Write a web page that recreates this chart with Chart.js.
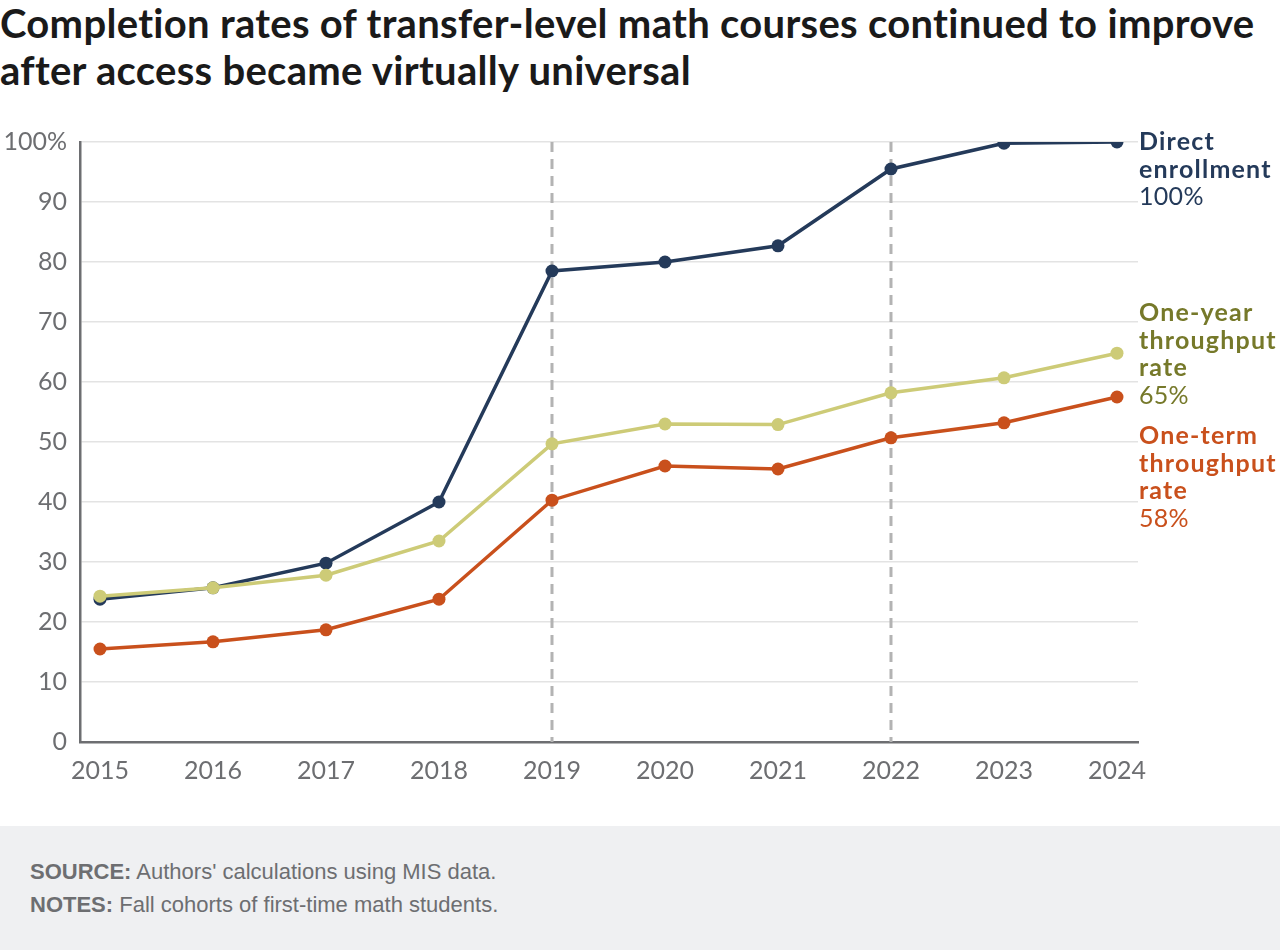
<!DOCTYPE html>
<html>
<head>
<meta charset="utf-8">
<script src="https://cdn.jsdelivr.net/npm/chart.js@4"></script>
<style>
  body { margin: 0; width: 1280px; height: 950px; background: #fff; position: relative; overflow: hidden; }
  h1 {
    position: absolute; left: 0; top: 0px; margin: 0; white-space: nowrap;
    font: bold 40px "Lato", sans-serif; color: #1a1a1a; line-height: 47px; letter-spacing: 0.3px;
  }
  #wrap { position: absolute; left: 0; top: 0; width: 1280px; height: 826px; }
  .foot {
    position: absolute; left: 0; top: 826px; width: 1280px; height: 124px; background: #eff0f2;
    font: 22px "Liberation Sans", Arial, sans-serif; color: #6d6e71;
  }
  .foot p { margin: 0; position: absolute; left: 30px; line-height: 25px; }
</style>
</head>
<body>
<h1>Completion rates of transfer-level math courses continued to improve<br>after access became virtually universal</h1>
<div id="wrap"><canvas id="myChart" width="1280" height="826"></canvas></div>
<div class="foot">
  <p style="top:33px"><b>SOURCE:</b> Authors' calculations using MIS data.</p>
  <p style="top:66px"><b>NOTES:</b> Fall cohorts of first-time math students.</p>
</div>
<script>
const years = [2015, 2016, 2017, 2018, 2019, 2020, 2021, 2022, 2023, 2024];
const directEnrollment = [23.8, 25.7, 29.8, 40, 78.5, 80, 82.7, 95.5, 99.8, 100];
const oneYearRate = [24.3, 25.7, 27.8, 33.5, 49.7, 53, 52.9, 58.2, 60.7, 64.8];
const oneTermRate = [15.5, 16.7, 18.7, 23.8, 40.3, 46, 45.5, 50.7, 53.2, 57.5];
const yTicks = [0, 10, 20, 30, 40, 50, 60, 70, 80, 90, 100];
const markerYears = [2019, 2022];

// end labels: text lines, colour, value where the first line sits
const endLabels = [
  { bold: ["Direct", "enrollment"], value: "100%", color: "#243a5a", at: 100 },
  { bold: ["One-year", "throughput", "rate"], value: "65%", color: "#76792a", at: 71.5 },
  { bold: ["One-term", "throughput", "rate"], value: "58%", color: "#c9501c", at: 51 },
];

function toPoints(vals) {
  return vals.map((v, i) => ({ x: years[i], y: v }));
}

const dashLines = {
  id: "dashLines",
  beforeDatasetsDraw(chart) {
    const ctx = chart.ctx;
    const x = chart.scales.x;
    const area = chart.chartArea;
    ctx.save();
    ctx.strokeStyle = "#b3b3b3";
    ctx.lineWidth = 3;
    ctx.setLineDash([10, 7]);
    markerYears.forEach((yr) => {
      const px = x.getPixelForValue(yr);
      ctx.beginPath();
      ctx.moveTo(px, area.top);
      ctx.lineTo(px, area.bottom);
      ctx.stroke();
    });
    ctx.restore();
  },
};

const sideLabels = {
  id: "sideLabels",
  afterDraw(chart) {
    const ctx = chart.ctx;
    const y = chart.scales.y;
    const left = chart.chartArea.right + 1;
    ctx.save();
    ctx.textBaseline = "middle";
    ctx.textAlign = "left";
    endLabels.forEach((lab) => {
      let py = y.getPixelForValue(lab.at);
      ctx.fillStyle = lab.color;
      ctx.font = "bold 25px Lato, sans-serif";
      ctx.letterSpacing = "1.2px";
      lab.bold.forEach((t) => {
        ctx.fillText(t, left, py);
        py += 27.5;
      });
      ctx.font = "25px Lato, sans-serif";
      ctx.letterSpacing = "0.3px";
      ctx.fillText(lab.value, left, py);
    });
    ctx.restore();
  },
};

const myChart = new Chart("myChart", {
  type: "line",
  data: {
    datasets: [
      {
        label: "One-term throughput rate",
        data: toPoints(oneTermRate),
        borderColor: "#c9501c",
        backgroundColor: "#c9501c",
      },
      {
        label: "One-year throughput rate",
        data: toPoints(oneYearRate),
        borderColor: "#cdcb77",
        backgroundColor: "#cdcb77",
      },
      {
        label: "Direct enrollment",
        data: toPoints(directEnrollment),
        borderColor: "#243a5a",
        backgroundColor: "#243a5a",
      },
    ],
  },
  options: {
    responsive: false,
    animation: false,
    layout: { padding: { top: 142, right: 142, left: 0, bottom: 0 } },
    elements: {
      line: { borderWidth: 3.5, tension: 0 },
      point: { radius: 6.5, hoverRadius: 6.5, borderWidth: 0 },
    },
    scales: {
      x: {
        type: "linear",
        min: 2014.823,
        max: 2024.186,
        afterBuildTicks(scale) {
          scale.ticks = years.map((v) => ({ value: v }));
        },
        afterFit(scale) {
          scale.height = 84;
        },
        grid: { display: false, drawTicks: false },
        border: { color: "#6d6e71", width: 2.5 },
        ticks: {
          callback: (v) => String(v),
          color: "#6d6e71",
          font: { family: "Lato", size: 25 },
          padding: 14,
          maxRotation: 0,
        },
      },
      y: {
        min: 0,
        max: 100,
        afterBuildTicks(scale) {
          scale.ticks = yTicks.map((v) => ({ value: v }));
        },
        afterFit(scale) {
          scale.width = 80;
        },
        grid: { color: "#e3e3e3", lineWidth: 1.5, drawTicks: false },
        border: { color: "#6d6e71", width: 2.5 },
        ticks: {
          callback: (v) => (v === 100 ? "100%" : String(v)),
          color: "#6d6e71",
          font: { family: "Lato", size: 25 },
          padding: 13,
        },
      },
    },
    plugins: {
      legend: { display: false },
      tooltip: { enabled: false },
    },
  },
  plugins: [dashLines, sideLabels],
});
</script>
</body>
</html>
